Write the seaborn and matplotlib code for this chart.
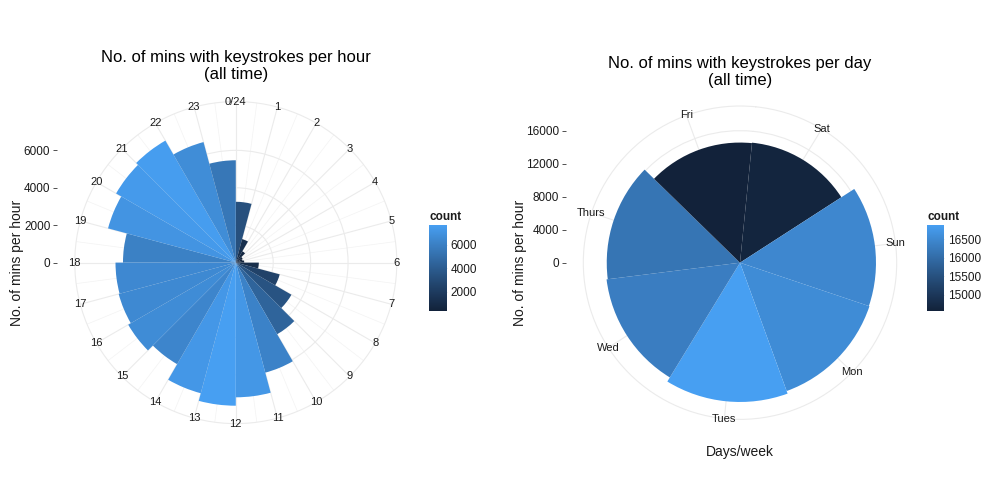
"""
Polar keystroke charts: minutes with keystrokes per hour and per weekday.
"""

import numpy as np
import matplotlib
matplotlib.use("Agg")
import matplotlib.pyplot as plt
from matplotlib.colors import Normalize, to_rgb
from matplotlib.cm import ScalarMappable
import seaborn as sns

# data
hours = list(range(24))
hour_labels = ["0/24"] + [str(h) for h in range(1, 24)]
hour_counts = [3250, 1300, 700, 420, 380, 450, 1230, 2430, 3435, 4420, 6090, 7200,
               7650, 7230, 6270, 6640, 6480, 6430, 6030, 7070, 7390, 7530, 6670, 5470]

days = ["Sat", "Sun", "Mon", "Tues", "Wed", "Thurs", "Fri"]
day_counts = [14620, 16480, 16550, 16880, 16300, 16150, 14560]

hour_rticks = [0, 2000, 4000, 6000]
day_rticks = [0, 4000, 8000, 12000, 16000]
hour_cbar_ticks = [2000, 4000, 6000]
day_cbar_ticks = [15000, 15500, 16000, 16500]

sns.set_theme(style="white")
plt.rcParams["font.family"] = ["Liberation Sans", "DejaVu Sans"]

# ggplot blends its gradient in CIELAB, so do the same before handing to seaborn
M = np.array([[0.4124, 0.3576, 0.1805],
              [0.2126, 0.7152, 0.0722],
              [0.0193, 0.1192, 0.9505]])
WHITE = np.array([0.95047, 1.0, 1.08883])
D = 6 / 29


def to_lab(c):
    rgb = np.array(to_rgb(c))
    lin = np.where(rgb <= 0.04045, rgb / 12.92, ((rgb + 0.055) / 1.055) ** 2.4)
    xyz = M @ lin / WHITE
    f = np.where(xyz > D ** 3, np.cbrt(xyz), xyz / (3 * D ** 2) + 4 / 29)
    return np.array([116 * f[1] - 16, 500 * (f[0] - f[1]), 200 * (f[1] - f[2])])


def from_lab(lab):
    fy = (lab[0] + 16) / 116
    f = np.array([fy + lab[1] / 500, fy, fy - lab[2] / 200])
    xyz = np.where(f > D, f ** 3, 3 * D ** 2 * (f - 4 / 29)) * WHITE
    lin = np.clip(np.linalg.solve(M, xyz), 0, None)
    rgb = np.where(lin <= 0.0031308, 12.92 * lin, 1.055 * lin ** (1 / 2.4) - 0.055)
    return tuple(np.clip(rgb, 0, 1))


# end colours as they appear in the reference render
lo, hi = to_lab("#12223A"), to_lab("#479FF2")
cmap = sns.blend_palette([from_lab(lo + t * (hi - lo)) for t in np.linspace(0, 1, 64)],
                         as_cmap=True)
GRID = "#EBEBEB"
TXT = "#1A1A1A"

W, H = 1008, 504
fig = plt.figure(figsize=(W / 100, H / 100), dpi=100)


def box(x0, y0, w, h):
    """pixel box (top-left origin) -> figure fraction rect"""
    return [x0 / W, 1 - (y0 + h) / H, w / W, h / H]


def draw_panel(cx, cy, unit, theta, values, width, align, labels, rticks,
               offset_deg, minor_theta, cbar_rect, cbar_ticks):
    vmax = max(values)
    per_unit = vmax / 0.4  # ggplot puts the data max at 0.4 of the panel

    # cartesian axes carrying the radial scale on the left
    cart = fig.add_axes(box(cx - unit / 2, cy - unit / 2, unit, unit))
    cart.set_ylim(-per_unit / 2, per_unit / 2)
    cart.set_xlim(0, 1)
    cart.set_xticks([])
    cart.set_yticks(rticks)
    cart.set_yticklabels([str(t) for t in rticks])
    cart.tick_params(axis="y", left=True, length=2.7, width=0.6, color="#333333",
                     pad=2, labelsize=8.5, labelcolor=TXT)
    for s in cart.spines.values():
        s.set_visible(False)
    cart.patch.set_alpha(0)

    ax = fig.add_axes(box(cx - 0.45 * unit, cy - 0.45 * unit, 0.9 * unit, 0.9 * unit),
                      projection="polar")
    ax.patch.set_alpha(0)
    ax.set_theta_zero_location("N", offset=offset_deg)
    ax.set_theta_direction(-1)
    ax.set_ylim(0, 0.45 * per_unit)
    ax.set_axisbelow(True)

    norm = Normalize(min(values), vmax)
    ax.bar(theta, values, width=width, align=align, color=cmap(norm(values)),
           linewidth=0)

    ax.set_xticks(theta)
    ax.set_xticklabels([])
    if minor_theta is not None:
        ax.set_xticks(minor_theta, minor=True)
        ax.xaxis.grid(True, which="minor", color="#F3F3F3", lw=0.5)
    ax.set_yticks(rticks[1:])
    ax.set_yticklabels([])
    ax.tick_params(length=0)
    ax.xaxis.grid(True, which="major", color=GRID, lw=0.8)
    ax.yaxis.grid(True, color=GRID, lw=0.8)
    ax.spines["polar"].set_color(GRID)
    ax.spines["polar"].set_linewidth(0.8)

    for t, lab in zip(theta, labels):
        ax.text(t, 0.45 * per_unit, lab, ha="center", va="center",
                fontsize=8, color=TXT)

    # colour legend
    cax = fig.add_axes(box(*cbar_rect))
    cb = fig.colorbar(ScalarMappable(norm=norm, cmap=cmap), cax=cax,
                      ticks=cbar_ticks)
    cb.outline.set_visible(False)
    cax.tick_params(axis="y", direction="in", left=True, right=True, length=3.5,
                    width=0.6, color="#DDDDDD", labelsize=8.5, labelcolor=TXT, pad=3)
    fig.text(cbar_rect[0] / W, 1 - (cbar_rect[1] - 8) / H, "count",
             fontsize=8.5, fontweight="bold", color=TXT, ha="left", va="center")
    return ax


# left: hours
hour_theta = np.array(hours) * 2 * np.pi / 24
draw_panel(235.8, 262.6, 357.8, hour_theta, hour_counts, 2 * np.pi / 24, "edge",
           hour_labels, hour_rticks, 0,
           hour_theta + np.pi / 24, (429.3, 225, 17.4, 86), hour_cbar_ticks)

# right: weekdays, ggplot start = 0.1 rad
day_theta = (np.arange(len(days)) + 0.5) * 2 * np.pi / len(days)
draw_panel(740, 262.7, 348.2, day_theta, day_counts, 2 * np.pi / len(days), "center",
           days, day_rticks, -np.degrees(0.1),
           None, (927.3, 225, 17, 86), day_cbar_ticks)

fig.text(235.8 / W, 1 - 66 / H, "No. of mins with keystrokes per hour\n(all time)",
         ha="center", va="center", fontsize=12, color="black", linespacing=1.2)
fig.text(740 / W, 1 - 72 / H, "No. of mins with keystrokes per day\n(all time)",
         ha="center", va="center", fontsize=12, color="black", linespacing=1.2)
fig.text(16.7 / W, 1 - 262.5 / H, "No. of mins per hour", rotation=90,
         ha="center", va="center", fontsize=10, color=TXT)
fig.text(520 / W, 1 - 262.5 / H, "No. of mins per hour", rotation=90,
         ha="center", va="center", fontsize=10, color=TXT)
fig.text(740 / W, 1 - 452 / H, "Days/week", ha="center", va="center",
         fontsize=10, color=TXT)

fig.savefig("out.png", dpi=100, facecolor="white")
